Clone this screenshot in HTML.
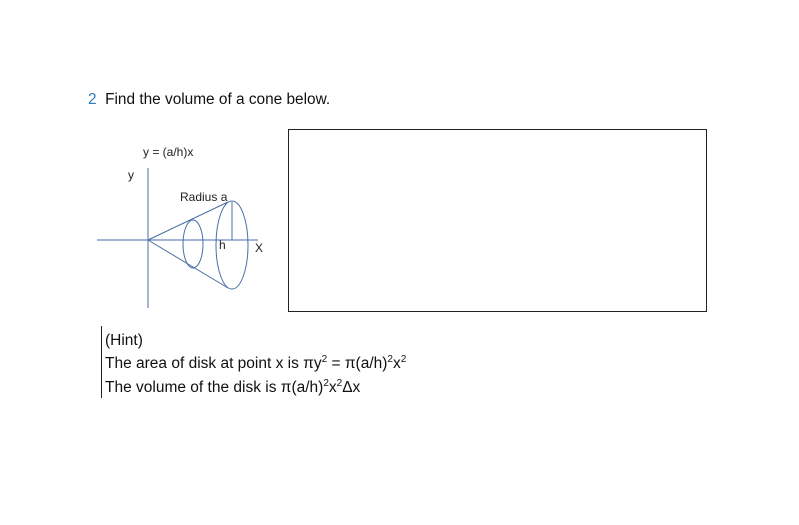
<!DOCTYPE html>
<html><head><meta charset="utf-8"><style>
body{margin:0;width:799px;height:525px;background:#fff;position:relative;overflow:hidden;font-family:"Liberation Sans",sans-serif;color:#111}
.t{position:absolute;white-space:nowrap}
sup{font-size:10px;vertical-align:6px;line-height:0}
</style></head><body>
<div class="t" style="left:88px;top:91px;font-size:15.4px"><span style="color:#2a7ab8">2</span>&nbsp; Find the volume of a cone below.</div>
<svg width="799" height="525" style="position:absolute;left:0;top:0">
<text x="143" y="156" font-size="12" font-family="Liberation Sans" fill="#222">y = (a/h)x</text>
<text x="128" y="179" font-size="12" font-family="Liberation Sans" fill="#222">y</text>
<text x="180" y="201" font-size="12" font-family="Liberation Sans" fill="#222">Radius a</text>
<text x="219" y="249" font-size="12" font-family="Liberation Sans" fill="#222">h</text>
<text x="255" y="252" font-size="12" font-family="Liberation Sans" fill="#222">X</text>
<g stroke="#4a6fa5" stroke-width="1" fill="none">
<line x1="148" y1="168" x2="148" y2="308"/>
<line x1="97" y1="240" x2="258" y2="240"/>
<line x1="148" y1="240" x2="228" y2="202"/>
<line x1="148" y1="240" x2="228" y2="288"/>
<line x1="232" y1="202" x2="232" y2="240"/>
<ellipse cx="193" cy="244" rx="10" ry="24"/>
<ellipse cx="232" cy="245" rx="16" ry="44"/>
</g>
</svg>
<div style="position:absolute;left:288px;top:129px;width:417px;height:181px;border:1px solid #222"></div>
<div style="position:absolute;left:101px;top:326px;width:1px;height:72px;background:#222"></div>
<div class="t" style="left:105px;top:332px;font-size:15.5px">(Hint)</div>
<div class="t" style="left:105px;top:355px;font-size:15.5px">The area of disk at point x is πy<sup>2</sup> = π(a/h)<sup>2</sup>x<sup>2</sup></div>
<div class="t" style="left:105px;top:379px;font-size:15.5px">The volume of the disk is π(a/h)<sup>2</sup>x<sup>2</sup>Δx</div>
</body></html>
